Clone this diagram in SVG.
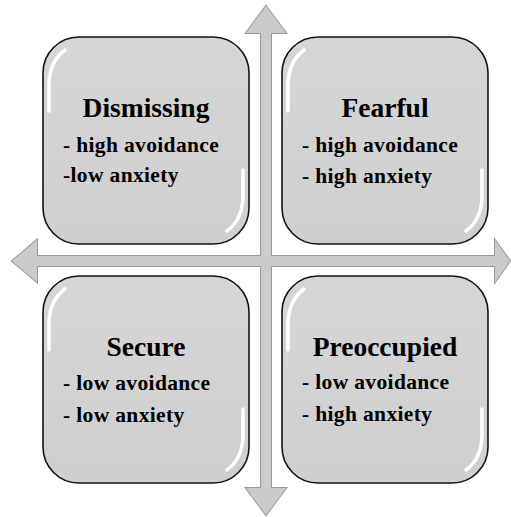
<svg xmlns="http://www.w3.org/2000/svg" width="511" height="517" viewBox="0 0 511 517">
  <style>
    text { font-family: 'Liberation Serif', 'Times New Roman', serif; font-weight: bold; fill: #000; }
    .title { font-size: 27.5px; text-anchor: middle; }
    .line { font-size: 21.5px; letter-spacing: 0.35px; }
    .axis-edge { fill: none; stroke: #9a9a9a; stroke-width: 2; stroke-linejoin: miter; }
    .axis-fill { fill: #cbcbcb; stroke: none; }
    .box { fill: url(#boxFill); stroke: #111; stroke-width: 1.6; }
    .gloss { fill: none; stroke: #ffffff; stroke-width: 3.5; stroke-linecap: round; filter: url(#soft); }
  </style>
  <defs>
    <linearGradient id="boxFill" x1="0" y1="0" x2="0" y2="1">
      <stop offset="0" stop-color="#d6d6d6"/>
      <stop offset="1" stop-color="#cfcfcf"/>
    </linearGradient>
    <filter id="soft" x="-50%" y="-50%" width="200%" height="200%">
      <feGaussianBlur stdDeviation="0.5"/>
    </filter>
    <!-- rounded quadrant tile with glossy edge highlights -->
    <g id="tile">
      <rect class="box" x="0" y="0" width="206" height="207" rx="36" ry="36"/>
      <path class="gloss" d="M6 74 L6 46 Q7 24 22 13"/>
      <path class="gloss" d="M200 27 L200 56"/>
      <path class="gloss" d="M6 152 L6 182"/>
      <path class="gloss" d="M200 133 L200 161 Q199 183 184 194"/>
    </g>
  </defs>

  <!-- axes: double-headed arrows, outlines first, then fills so the crossing merges -->
  <g id="connectors">
    <polygon class="axis-edge" points="266,6 286,33 271,33 271,488 286,488 266,515 246,488 261,488 261,33 246,33"/>
    <polygon class="axis-edge" points="12,261 37,240 37,256 495,256 495,240 510,261 495,282 495,266 37,266 37,282"/>
    <polygon class="axis-fill" points="266,6 286,33 271,33 271,488 286,488 266,515 246,488 261,488 261,33 246,33"/>
    <polygon class="axis-fill" points="12,261 37,240 37,256 495,256 495,240 510,261 495,282 495,266 37,266 37,282"/>
  </g>

  <g id="dismissing">
    <use href="#tile" x="43" y="37"/>
    <text class="title" x="146" y="117">Dismissing</text>
    <text class="line" x="63" y="152">- high avoidance</text>
    <text class="line" x="63" y="182">-low anxiety</text>
  </g>

  <g id="fearful">
    <use href="#tile" x="282" y="37"/>
    <text class="title" x="385" y="117">Fearful</text>
    <text class="line" x="302" y="152">- high avoidance</text>
    <text class="line" x="302" y="183">- high anxiety</text>
  </g>

  <g id="secure">
    <use href="#tile" x="43" y="276"/>
    <text class="title" x="146" y="356">Secure</text>
    <text class="line" x="63" y="390">- low avoidance</text>
    <text class="line" x="63" y="422">- low anxiety</text>
  </g>

  <g id="preoccupied">
    <use href="#tile" x="282" y="276"/>
    <text class="title" x="385" y="356">Preoccupied</text>
    <text class="line" x="302" y="389">- low avoidance</text>
    <text class="line" x="302" y="421">- high anxiety</text>
  </g>
</svg>
